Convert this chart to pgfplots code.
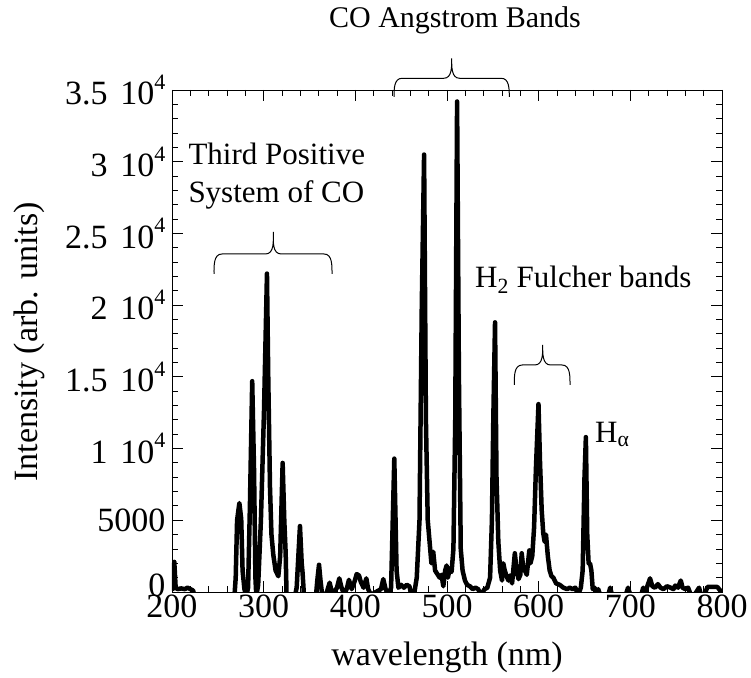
\documentclass[border=0pt]{standalone}
\usepackage{fontspec}
\setmainfont{Liberation Serif}
\usepackage{pgfplots}
\pgfplotsset{compat=1.18}
\newcommand{\tenf}[1]{#1\hspace{0.38em}10\raisebox{0.45em}{\fontsize{22}{22}\selectfont 4}}
\begin{document}
\begin{tikzpicture}[x=1pt,y=1pt]
\useasboundingbox (-172,-85) rectangle (579,592);
\begin{axis}[
  at={(0,0)}, anchor=south west,
  scale only axis, width=550pt, height=502pt,
  xmin=200, xmax=800, ymin=0, ymax=35000,
  xtick={200,300,...,800},
  ytick={0,5000,...,35000},
  yticklabels={\raisebox{14pt}{0},5000,\tenf{1},\tenf{1.5},\tenf{2},\tenf{2.5},\tenf{3},\tenf{3.5}},
  minor x tick num=4, minor y tick num=4,
  tick align=inside,
  major tick length=11pt, minor tick length=6.5pt,
  axis line style={line width=0.9pt},
  every tick/.style={black, line width=0.9pt},
  ticklabel style={font=\fontsize{34}{40}\selectfont},
  /pgf/number format/assume math mode=true,
  scaled y ticks=false,
  xticklabel style={yshift=1pt},
  yticklabel style={xshift=-3pt},
]
\addplot[black, line width=4.5pt, line join=round] coordinates {
(200,100) (201,300) (202.5,2100) (204,300) (206,200) (210,250) (214,200) (217,300) (220,200) (223,100) (225,-400)
(268,-400) (269.5,1000) (271,5000) (273.5,6200) (275.5,5100) (277,1500) (279,200) (281,-300) (283,300)
(285,6000) (287.5,14700) (289.5,8500) (291,1000) (292,-300) (294,500) (297,5000) (300.4,12700) (303.6,22200)
(305,15000) (306.9,7300) (308.5,4000) (310.5,2600) (313,1500) (316,1100) (318,2500) (320.7,9000) (322.5,5000)
(324,2700) (325,-300) (334,-300) (336,300) (339.6,4600) (341.5,2000) (342.5,1300) (344,-300) (357,-300)
(358.5,800) (360.4,1900) (362,800) (364,-300) (368,-200) (372,650) (375,-200) (380,300) (382.5,950) (385,300)
(388,-200) (391,300) (393,850) (396,200) (399,700) (401.5,1250) (404,1150) (406,700) (409,300) (412,950)
(414,200) (417,-200) (428,200) (430.5,900) (433,200) (436,-200) (439,300) (442.5,9300) (445,1500) (447,300)
(450,500) (453,300) (456,500) (459,400) (461,-200) (464,-200) (467,1000) (470,5000) (472.5,20000) (475,30500)
(477,12000) (479,5000) (481,3500) (483,2000) (485,2800) (487,1500) (489,1300) (492,1000) (494,1200) (496,400)
(498,1500) (499.6,1850) (501,1000) (503,1650) (505,1400) (507,3000) (509,12000) (511,34200) (513,15000)
(515,3000) (517,1500) (519.6,800) (522,500) (525,400) (528,200) (531,300) (534,200) (537,-200) (541,200)
(544,300) (547,1000) (549,5000) (550.5,12000) (552.4,18800) (554,8000) (556,3500) (558,1500) (560,800)
(561.4,2000) (563,1500) (565,1100) (567,800) (568.7,1150) (571,600) (574,2700) (576,1500) (578,900)
(580,1200) (581.5,2700) (583,1800) (585,1500) (587,1200) (589.8,2900) (591,2000) (593,2500) (595,4500)
(597,8600) (599.8,13100) (601.5,9000) (603.3,5700) (605,4100) (606.5,3500) (608,4000) (610,2500) (612,1500)
(614,1100) (616,1000) (619,600) (623,500) (627,300) (631,200) (634,300) (637,200) (640,300) (643,-200)
(646,300) (648,1500) (650,8000) (651.5,10800) (653,4000) (654.5,2000) (656,2000) (657.5,1500) (659,200)
(661,300) (663,-200) (665,200) (667,-200) (676,-200) (678,300) (680,-200) (695,-200) (697.5,300) (700,-200)
(712,-200) (714,300) (716,-200) (718,300) (721.5,950) (724,400) (727,300) (730,550) (733,300) (736,200)
(740,400) (744,300) (747,200) (749,450) (752,300) (755,800) (757,300) (760,200) (763,300) (766,-200)
(770,-200) (773,100) (775,300) (777,-200) (781,-200) (784,350) (788,350) (792,350) (795,350) (798,100) (800,200)
};
\end{axis}
% labels
\node[font=\fontsize{30}{36}\selectfont, anchor=base] at (283,564) {CO Angstrom Bands};
\node[font=\fontsize{34}{40}\selectfont, anchor=base] at (275,-73) {wavelength (nm)};
\node[font=\fontsize{34}{40}\selectfont, rotate=90, anchor=base] at (-134,250) {Intensity (arb. units)};
\node[font=\fontsize{31}{37}\selectfont, anchor=base west, inner sep=0pt] at (16.3,427) {Third Positive};
\node[font=\fontsize{31}{37}\selectfont, anchor=base west, inner sep=0pt] at (16.3,389.7) {System of CO};
\node[font=\fontsize{31}{37}\selectfont, anchor=base west, inner sep=0pt] at (303,304.7) {H\textsubscript{2} Fulcher bands};
\node[font=\fontsize{31}{37}\selectfont, anchor=base west, inner sep=0pt] at (423,149.3) {H\textsubscript{α}};
% braces
\draw[line width=1pt] (42,318) to[out=90,in=180] (50,338) -- (93.3,338) to[out=0,in=270] (101.3,360)
  to[out=270,in=180] (109.3,338) -- (152,338) to[out=0,in=90] (160,318);
\draw[line width=1pt] (222,495) to[out=90,in=180] (230,513.7) -- (271.7,513.7) to[out=0,in=270] (279.7,533.7)
  to[out=270,in=180] (287.7,513.7) -- (329.3,513.7) to[out=0,in=90] (337.3,495);
\draw[line width=1pt] (342.3,207) to[out=90,in=180] (350.3,227) -- (362.7,227) to[out=0,in=270] (370.7,247)
  to[out=270,in=180] (378.7,227) -- (390,227) to[out=0,in=90] (398,207);
\end{tikzpicture}
\end{document}
